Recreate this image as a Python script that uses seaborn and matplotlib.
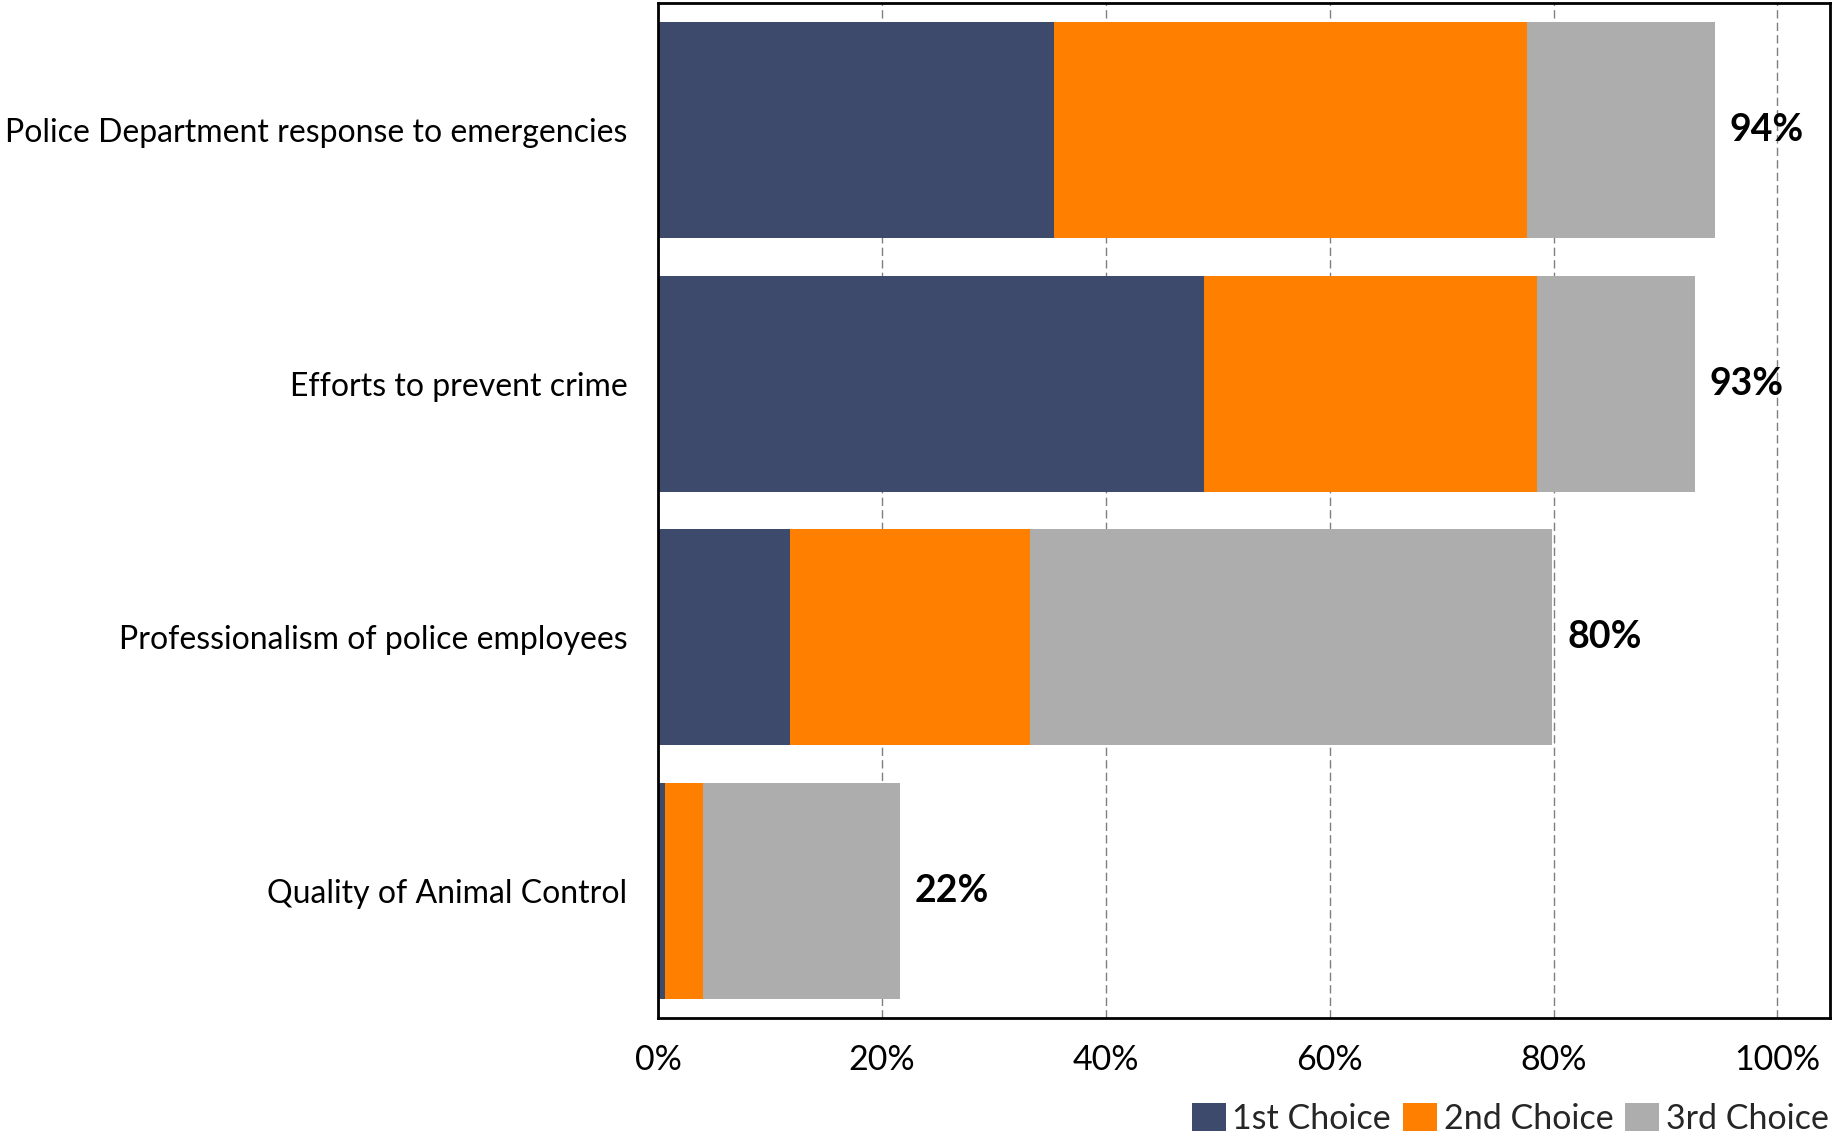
import matplotlib
matplotlib.use("Agg")
import matplotlib.pyplot as plt
from matplotlib.patches import Patch
import numpy as np
import pandas as pd
import seaborn as sns

categories = [
    "Police Department response to emergencies",
    "Efforts to prevent crime",
    "Professionalism of police employees",
    "Quality of Animal Control",
]
first_choice = [35.4, 48.8, 11.8, 0.6]
second_choice = [42.2, 29.7, 21.4, 3.4]
third_choice = [16.8, 14.1, 46.7, 17.6]
series_names = ["1st Choice", "2nd Choice", "3rd Choice"]
x_ticks = [0, 20, 40, 60, 80, 100]
x_tick_labels = ["0%", "20%", "40%", "60%", "80%", "100%"]

colors = ["#3d4a6b", "#ff8000", "#adadad"]

sns.set_theme(style="white")
plt.rcParams["font.family"] = ["Lato", "DejaVu Sans"]

df = pd.DataFrame({
    "category": categories,
    "first": first_choice,
    "second": second_choice,
    "third": third_choice,
})
df["cum1"] = df["first"]
df["cum2"] = df["first"] + df["second"]
df["total"] = df["cum2"] + df["third"]

fig = plt.figure(figsize=(18.33, 11.39), dpi=100)
ax = fig.add_axes([0.359, 0.1062, 0.6394, 0.8912])

# Stacked bars: draw the running totals from the outermost segment inwards
for col, color in zip(["total", "cum2", "cum1"], colors[::-1]):
    sns.barplot(data=df, x=col, y="category", orient="h", color=color,
                saturation=1, width=0.851, linewidth=0, ax=ax)

# Total labels to the right of each bar
for i, tot in enumerate(df["total"]):
    ax.text(tot + 1.3, i, f"{tot:.0f}%", va="center", ha="left",
            fontsize=27, fontweight="bold", color="black")

ax.set_xlim(0, 104.7)
ax.set_ylim(3.5, -0.5)
ax.set_xticks(x_ticks)
ax.set_xticklabels(x_tick_labels)
ax.set_xlabel("")
ax.set_ylabel("")
ax.tick_params(axis="x", length=0, pad=19, labelsize=24.5, colors="black")
ax.tick_params(axis="y", length=0, pad=22, labelsize=23.0, colors="black")

ax.set_axisbelow(True)
ax.xaxis.grid(True, color="#7f7f7f", linewidth=1.0, linestyle=(0, (6, 3)))
ax.yaxis.grid(False)
for side in ["left", "right", "top", "bottom"]:
    ax.spines[side].set_visible(True)
    ax.spines[side].set_color("black")
    ax.spines[side].set_linewidth(2)

handles = [Patch(facecolor=c, edgecolor="none", label=n)
           for c, n in zip(colors, series_names)]
fig.legend(handles=handles, loc="lower right", bbox_to_anchor=(1.009, -0.014),
           ncol=3, frameon=False, fontsize=24.5, handlelength=1.0,
           handleheight=0.9, handletextpad=0.2, columnspacing=0.35,
           borderaxespad=0.2)

fig.savefig("out.png", dpi=100, facecolor="white")
